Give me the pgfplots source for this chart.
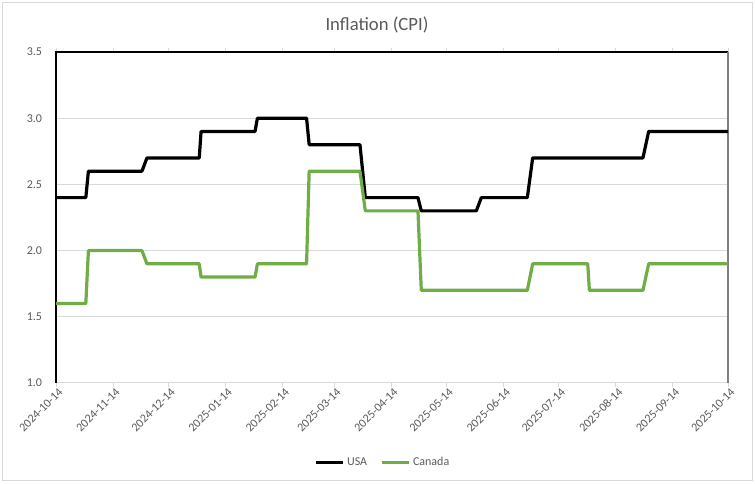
\documentclass[border=0pt]{standalone}
\usepackage{pgfplots}
\pgfplotsset{compat=1.18}
\usepackage{fontspec}
\setmainfont{Carlito}
\definecolor{txtgray}{HTML}{595959}
\definecolor{gridgray}{HTML}{D9D9D9}
\definecolor{cgreen}{HTML}{70AD47}
\begin{document}
\begin{tikzpicture}[x=0.75pt,y=0.75pt]
\useasboundingbox (-56,-101) rectangle (699,383);
\draw[gridgray, line width=0.75pt] (-53,-98) rectangle (696,380);
\node[font=\fontsize{14}{16}\selectfont, text=txtgray] at (321,358) {Inflation (CPI)};
\begin{axis}[
  anchor=south west,
  scale only axis, width=504pt, height=248.25pt,
  xmin=0, xmax=365, ymin=1, ymax=3.5,
  ytick={1,1.5,2,2.5,3,3.5},
  yticklabel style={/pgf/number format/fixed, /pgf/number format/fixed zerofill, /pgf/number format/precision=1, text=txtgray, font=\fontsize{9}{10}\selectfont, xshift=-4pt},
  /pgf/number format/assume math mode=true,
  xtick={0,31,61,92,123,151,182,212,243,273,304,335,365},
  xticklabels={2024-10-14,2024-11-14,2024-12-14,2025-01-14,2025-02-14,2025-03-14,2025-04-14,2025-05-14,2025-06-14,2025-07-14,2025-08-14,2025-09-14,2025-10-14},
  xticklabel style={rotate=45, anchor=north east, text=txtgray, font=\fontsize{9}{10}\selectfont, inner sep=1pt, xshift=2pt},
  ymajorgrids, grid style={gridgray, line width=0.75pt},
  axis line style={draw=none},
  tick align=outside, major tick length=3pt,
  xtick style={gridgray, line width=0.75pt},
  ytick style={draw=none},
  legend style={at={(0.487,-0.239)}, anchor=center, draw=none, fill=none, legend columns=2, font=\fontsize{9}{10}\selectfont, text=txtgray, /tikz/every even column/.append style={column sep=8pt}, inner sep=0pt},
  legend image code/.code={\draw[#1] (0pt,0pt) -- (20pt,0pt);},
  clip=false,
]
\draw[gridgray, line width=0.75pt] (rel axis cs:0,0) -- (rel axis cs:1,0);
\draw[black, line width=1pt] (rel axis cs:0,0) -- (rel axis cs:0,1) -- (rel axis cs:1,1);
\draw[gray, line width=1.3pt] (rel axis cs:1,1) -- (rel axis cs:1,0);
\addplot[black, line width=2.4pt, line join=round] coordinates {
(0,2.4) (16.2,2.4) (17.6,2.6) (46.7,2.6) (49.4,2.7) (77.8,2.7) (78.8,2.9)
(108.1,2.9) (109.4,3.0) (136.1,3.0) (137.5,2.8) (165.1,2.8) (168.0,2.4)
(196.6,2.4) (198.4,2.3) (228.3,2.3) (231.0,2.4) (256.0,2.4) (258.9,2.7)
(318.8,2.7) (321.9,2.9) (365,2.9)};
\addlegendentry{USA}
\addplot[cgreen, line width=2.4pt, line join=round] coordinates {
(0,1.6) (16.2,1.6) (17.6,2.0) (46.7,2.0) (49.4,1.9) (77.8,1.9) (78.8,1.8)
(108.1,1.8) (109.4,1.9) (136.1,1.9) (137.5,2.6) (165.1,2.6) (168.0,2.3)
(196.6,2.3) (198.4,1.7) (256.0,1.7) (258.9,1.9) (288.8,1.9) (289.7,1.7)
(318.8,1.7) (321.9,1.9) (365,1.9)};
\addlegendentry{Canada}
\end{axis}
\end{tikzpicture}
\end{document}
